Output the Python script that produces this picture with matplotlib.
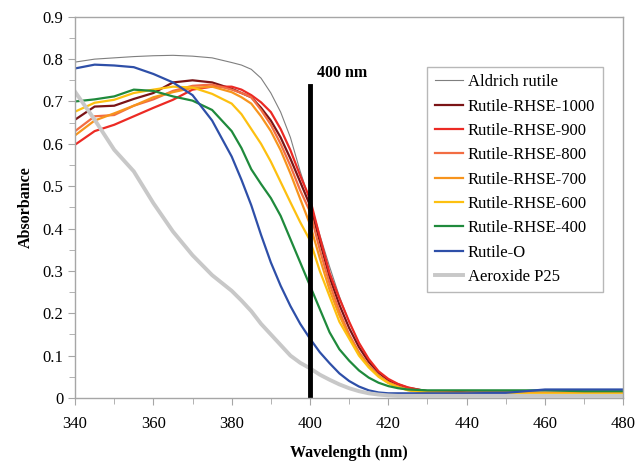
import matplotlib
matplotlib.use("Agg")
import matplotlib.pyplot as plt
from matplotlib.ticker import MultipleLocator, FuncFormatter

plt.rcParams['font.family'] = ['Liberation Serif', 'DejaVu Serif']

wavelength = [340, 345, 350, 355, 360, 365, 370, 375,
              380, 382.5, 385, 387.5, 390, 392.5, 395, 397.5, 400, 402.5,
              405, 407.5, 410, 412.5, 415, 417.5, 420, 422.5, 425,
              430, 440, 450, 460, 470, 480]

aldrich = [0.793, 0.800, 0.803, 0.806, 0.808, 0.809, 0.807, 0.803,
           0.792, 0.786, 0.776, 0.755, 0.720, 0.675, 0.615, 0.535, 0.465, 0.385,
           0.310, 0.240, 0.180, 0.130, 0.090, 0.060, 0.040, 0.027, 0.018,
           0.012, 0.010, 0.010, 0.010, 0.012, 0.013]
rhse1000 = [0.657, 0.688, 0.690, 0.706, 0.720, 0.745, 0.750, 0.745,
            0.730, 0.720, 0.710, 0.685, 0.655, 0.615, 0.565, 0.510, 0.455, 0.370,
            0.285, 0.220, 0.165, 0.120, 0.085, 0.060, 0.042, 0.032, 0.024,
            0.016, 0.013, 0.013, 0.012, 0.012, 0.012]
rhse900 = [0.598, 0.630, 0.645, 0.665, 0.685, 0.704, 0.728, 0.735,
           0.735, 0.728, 0.715, 0.698, 0.675, 0.635, 0.585, 0.525, 0.470, 0.380,
           0.295, 0.235, 0.180, 0.130, 0.092, 0.063, 0.045, 0.033, 0.025,
           0.015, 0.012, 0.010, 0.010, 0.010, 0.010]
rhse800 = [0.630, 0.665, 0.668, 0.690, 0.705, 0.725, 0.737, 0.740,
           0.728, 0.720, 0.710, 0.680, 0.645, 0.600, 0.548, 0.490, 0.440, 0.350,
           0.270, 0.205, 0.150, 0.108, 0.077, 0.053, 0.037, 0.027, 0.020,
           0.014, 0.012, 0.012, 0.012, 0.012, 0.012]
rhse700 = [0.620, 0.655, 0.672, 0.690, 0.710, 0.722, 0.732, 0.735,
           0.722, 0.710, 0.695, 0.665, 0.630, 0.585, 0.530, 0.470, 0.410, 0.330,
           0.255, 0.195, 0.145, 0.105, 0.075, 0.052, 0.036, 0.026, 0.019,
           0.013, 0.011, 0.011, 0.012, 0.012, 0.012]
rhse600 = [0.676, 0.697, 0.704, 0.720, 0.728, 0.735, 0.733, 0.718,
           0.695, 0.670, 0.635, 0.600, 0.558, 0.510, 0.462, 0.415, 0.372, 0.300,
           0.240, 0.180, 0.140, 0.100, 0.072, 0.050, 0.035, 0.025, 0.018,
           0.012, 0.010, 0.010, 0.010, 0.010, 0.010]
rhse400 = [0.700, 0.705, 0.712, 0.728, 0.725, 0.712, 0.702, 0.680,
           0.630, 0.590, 0.540, 0.505, 0.472, 0.430, 0.375, 0.320, 0.265, 0.210,
           0.155, 0.115, 0.088, 0.065, 0.048, 0.036, 0.028, 0.023, 0.020,
           0.018, 0.018, 0.018, 0.018, 0.016, 0.016]
rutile_o = [0.778, 0.787, 0.785, 0.781, 0.765, 0.745, 0.715, 0.655,
            0.570, 0.515, 0.455, 0.385, 0.320, 0.265, 0.217, 0.175, 0.140, 0.108,
            0.082, 0.058, 0.040, 0.027, 0.018, 0.013, 0.011, 0.011, 0.011,
            0.011, 0.011, 0.012, 0.020, 0.020, 0.020]
p25 = [0.723, 0.657, 0.586, 0.535, 0.460, 0.393, 0.337, 0.290,
       0.253, 0.230, 0.205, 0.175, 0.150, 0.125, 0.100, 0.083, 0.070, 0.055,
       0.043, 0.032, 0.023, 0.016, 0.011, 0.008, 0.006, 0.005, 0.005,
       0.005, 0.005, 0.005, 0.005, 0.005, 0.005]

series = [
    ("Aldrich rutile", aldrich, "#7f7f7f", 0.8),
    ("Rutile-RHSE-1000", rhse1000, "#7b1416", 1.6),
    ("Rutile-RHSE-900", rhse900, "#ec2a24", 1.6),
    ("Rutile-RHSE-800", rhse800, "#f26d43", 1.6),
    ("Rutile-RHSE-700", rhse700, "#f7941d", 1.6),
    ("Rutile-RHSE-600", rhse600, "#fdc010", 1.6),
    ("Rutile-RHSE-400", rhse400, "#1f8a3c", 1.6),
    ("Rutile-O", rutile_o, "#2e4fa8", 1.6),
    ("Aeroxide P25", p25, "#c8c8c8", 2.8),
]

fig = plt.figure(figsize=(6.36, 4.66), dpi=100)
ax = fig.add_axes([0.118, 0.146, 0.862, 0.818])

for name, vals, color, lw in series:
    ax.plot(wavelength, vals, color=color, linewidth=lw, label=name)

ax.plot([400, 400], [0, 0.737], color="black", linewidth=3.5)
ax.text(401.8, 0.767, "400 nm", fontsize=11.5, fontweight="bold", va="center")

ax.set_xlim(340, 480)
ax.set_ylim(0, 0.9)
ax.xaxis.set_major_locator(MultipleLocator(20))
ax.xaxis.set_minor_locator(MultipleLocator(10))
ax.yaxis.set_major_locator(MultipleLocator(0.1))
ax.yaxis.set_minor_locator(MultipleLocator(0.05))
ax.yaxis.set_major_formatter(FuncFormatter(lambda v, p: f"{v:.1f}".rstrip("0").rstrip(".") if v else "0"))

for s in ax.spines.values():
    s.set_color("#a6a6a6")
    s.set_linewidth(1.0)
ax.tick_params(which="both", direction="out", color="#a6a6a6", labelsize=12)
ax.tick_params(which="major", length=5)
ax.tick_params(which="minor", length=4)
ax.tick_params(axis="x", pad=8)

ax.set_xlabel("Wavelength (nm)", fontsize=11.5, fontweight="bold", labelpad=9)
ax.set_ylabel("Absorbance", fontsize=11.5, fontweight="bold", labelpad=6)

leg = ax.legend(loc="upper left", bbox_to_anchor=(0.642, 0.869), borderaxespad=0,
                fontsize=12, frameon=True, fancybox=False, handlelength=1.7,
                handletextpad=0.3, labelspacing=0.5, borderpad=0.45)
leg.get_frame().set_edgecolor("#a6a6a6")
leg.get_frame().set_linewidth(1.0)

fig.savefig("out.png", dpi=100)
